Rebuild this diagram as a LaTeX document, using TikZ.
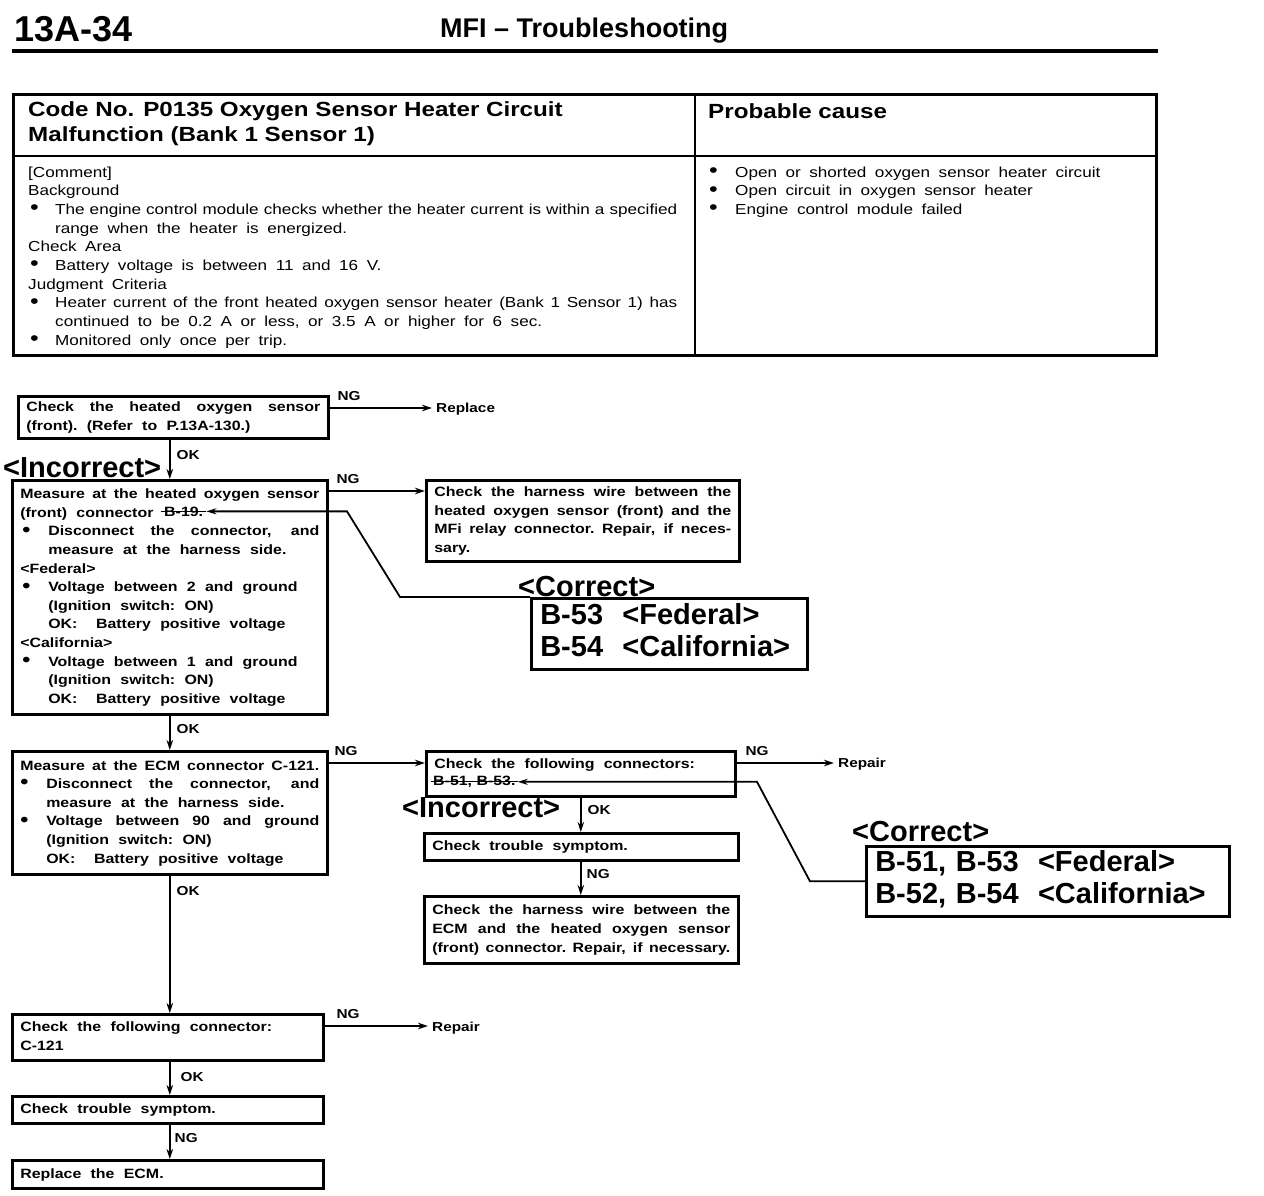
\documentclass[tikz,border=0pt]{standalone}
\usepackage{fontspec}
\setmainfont{Liberation Sans}
\newfontfamily\wide{Liberation Sans}[FakeStretch=1.18]
\usepackage{graphicx}
\usetikzlibrary{arrows.meta,calc}
\setlength\parindent{0pt}
\newlength\bind \newlength\boff
\newsavebox\jbox
\newcommand\widesp[1]{\spaceskip=#1\fontdimen2\font plus \fontdimen3\font minus \fontdimen4\font\relax\xspaceskip=\spaceskip}
\newcommand\fitto[2]{\leavevmode\sbox\jbox{\spaceskip=0pt\xspaceskip=0pt #2}\ifdim\wd\jbox>#1\relax\resizebox{#1}{\ht\jbox}{\usebox\jbox}\else\hbox to #1{\spaceskip=\fontdimen2\font plus 1fil\relax\xspaceskip=\spaceskip #2}\fi}
\newcommand\J[1]{\fitto{\hsize}{#1}}
\newcommand\Bu{\makebox[\bind][l]{\hspace*{\boff}\raisebox{-0.3pt}{\scalebox{1.45}{\textbullet}}}}
\newcommand\BJ[1]{\Bu\fitto{\dimexpr\hsize-\bind\relax}{#1}}
\newcommand\BL[1]{\Bu#1}
\newcommand\IL[1]{\hspace*{\bind}#1}
\newcommand\ftx{\wide\bfseries\fontsize{13.5}{18.6}\selectfont}
\newcommand\flab{\wide\bfseries\fontsize{13}{15}\selectfont}
\newcommand\ftab{\wide\fontsize{14.5}{18.67}\selectfont}
\begin{document}
\begin{tikzpicture}[x=1pt,y=-1pt,
  fbox/.style={draw, line width=2.6pt, anchor=north west, inner xsep=8pt, inner ysep=0pt, align=left, font=\ftx, execute at begin node={\widesp{2.1}\strut}, execute at end node=\strut},
  tbody/.style={anchor=north west, inner sep=0pt, align=left, font=\ftab, execute at begin node={\widesp{1.8}\strut}},
  corr/.style={draw, line width=2.6pt, anchor=north west, inner xsep=9pt, inner ysep=0pt, align=left, font=\bfseries\fontsize{29}{32}\selectfont, execute at begin node=\strut, execute at end node=\strut},
  arr/.style={line width=1.8pt, -{Stealth[length=10pt,width=6.5pt]}},
  ann/.style={line width=1.8pt, -{Stealth[length=10pt,width=6pt]}},
  lab/.style={font=\flab, inner sep=1pt},
  tgt/.style={font=\flab, inner sep=4pt, anchor=west},
  big/.style={font=\bfseries\fontsize{29}{32}\selectfont, inner sep=0pt, anchor=base west},
  strike/.style={line width=1.3pt}]
\useasboundingbox (0,0) rectangle (1264,1196);
\fill[white] (0,0) rectangle (1264,1196);

% page header
\node[anchor=base west, inner sep=0pt, font=\bfseries\fontsize{36}{40}\selectfont] (pg) at (14,42) {13A-34};
\node[anchor=base west, inner sep=0pt, font=\bfseries\fontsize{27}{30}\selectfont] (ttl) at (440,38) {MFI – Troubleshooting};
\draw[line width=4.5pt] (12,51) -- (1158,51);

% table
\draw[line width=3pt] (13,95) rectangle (1156,355);
\draw[line width=2pt] (695,95) -- (695,355);
\draw[line width=2pt] (13,156) -- (1156,156);
\node[anchor=north west, inner sep=0pt, align=left, font=\wide\bfseries\fontsize{20.5}{25}\selectfont, execute at begin node=\strut] (code) at (28,101.5) {Code No. P0135 Oxygen Sensor Heater Circuit\\Malfunction (Bank 1 Sensor 1)};
\node[anchor=base west, inner sep=0pt, font=\wide\bfseries\fontsize{20.5}{25}\selectfont] (pc) at (708,119) {Probable cause};
\node[tbody, text width=649pt] (cmt) at (28,164) {\setlength\bind{27pt}\setlength\boff{2pt}%
[Comment]\\
Background\\
\BJ{The engine control module checks whether the heater current is within a specified}\\
\IL{range when the heater is energized.}\\
Check Area\\
\BL{Battery voltage is between 11 and 16 V.}\\
Judgment Criteria\\
\BJ{Heater current of the front heated oxygen sensor heater (Bank 1 Sensor 1) has}\\
\IL{continued to be 0.2 A or less, or 3.5 A or higher for 6 sec.}\\
\BL{Monitored only once per trip.}};
\node[tbody, text width=440pt] (cause) at (708,164) {\setlength\bind{27pt}\setlength\boff{1pt}%
\BL{Open or shorted oxygen sensor heater circuit}\\
\BL{Open circuit in oxygen sensor heater}\\
\BL{Engine control module failed}};

% flowchart boxes
\node[fbox, text width=294pt, minimum height=42pt] (b1) at (17,395) {\J{Check the heated oxygen sensor}\\(front). (Refer to P.13A-130.)};
\node[fbox, text width=299pt, minimum height=234pt] (b2) at (11,479) {\setlength\bind{28pt}\setlength\boff{2pt}%
\J{Measure at the heated oxygen sensor}\\
(front) connector\\
\BJ{Disconnect the connector, and}\\
\IL{measure at the harness side.}\\
<Federal>\\
\BL{Voltage between 2 and ground}\\
\IL{(Ignition switch: ON)}\\
\IL{OK:\ \ Battery positive voltage}\\
<California>\\
\BL{Voltage between 1 and ground}\\
\IL{(Ignition switch: ON)}\\
\IL{OK:\ \ Battery positive voltage}};
\node[fbox, text width=297pt, minimum height=81pt] (b3) at (425,479) {\J{Check the harness wire between the}\\\J{heated oxygen sensor (front) and the}\\\J{MFi relay connector. Repair, if neces-}\\sary.};
\node[fbox, text width=299pt, minimum height=123pt] (b4) at (11,750) {\setlength\bind{26pt}\setlength\boff{0pt}%
\J{Measure at the ECM connector C-121.}\\
\BJ{Disconnect the connector, and}\\
\IL{measure at the harness side.}\\
\BJ{Voltage between 90 and ground}\\
\IL{(Ignition switch: ON)}\\
\IL{OK:\ \ Battery positive voltage}};
\node[fbox, text width=293pt, minimum height=45pt] (b5) at (425,750) {Check the following connectors:\\\mbox{}};
\node[fbox, text width=298pt, minimum height=27pt] (b6) at (423,832) {Check trouble symptom.};
\node[fbox, text width=298pt, minimum height=67pt] (b7) at (423,895) {\J{Check the harness wire between the}\\\J{ECM and the heated oxygen sensor}\\\J{(front) connector. Repair, if necessary.}};
\node[fbox, text width=295pt, minimum height=46pt] (b8) at (11,1013) {Check the following connector:\\C-121};
\node[fbox, text width=295pt, minimum height=27pt] (b9) at (11,1095) {Check trouble symptom.};
\node[fbox, text width=295pt, minimum height=28pt] (b10) at (11,1159) {Replace the ECM.};

% end targets
\node[tgt] (rep1) at (432,409) {Replace};
\node[tgt] (rep2) at (834,764) {Repair};
\node[tgt] (rep3) at (428,1028) {Repair};

% NG connectors
\coordinate (s1) at ([yshift=-13pt]b1.north east);
\coordinate (s2) at ([yshift=-12pt]b2.north east);
\coordinate (s4) at ([yshift=-13pt]b4.north east);
\coordinate (s5) at ([yshift=-13pt]b5.north east);
\coordinate (s8) at ([yshift=-13pt]b8.north east);
\draw[arr] (s1) -- (s1 -| rep1.west) node[lab, pos=0, anchor=south west, xshift=6pt, yshift=5pt] {NG};
\draw[arr] (s2) -- (s2 -| b3.west) node[lab, pos=0, anchor=south west, xshift=6pt, yshift=5pt] {NG};
\draw[arr] (s4) -- (s4 -| b5.west) node[lab, pos=0, anchor=south west, xshift=4pt, yshift=5pt] {NG};
\draw[arr] (s5) -- (s5 -| rep2.west) node[lab, pos=0, anchor=south west, xshift=7pt, yshift=5pt] {NG};
\draw[arr] (s8) -- (s8 -| rep3.west) node[lab, pos=0, anchor=south west, xshift=10pt, yshift=5pt] {NG};

% vertical connectors
\draw[arr] (b2.north |- b1.south) -- (b2.north) node[lab, pos=0.4, anchor=west, xshift=5pt] {OK};
\draw[arr] (b2.south) -- (b4.north) node[lab, pos=0.38, anchor=west, xshift=5pt] {OK};
\draw[arr] (b4.south) -- (b4.south |- b8.north) node[lab, pos=0.11, anchor=west, xshift=5pt] {OK};
\draw[arr] (b8.south -| b4.south) -- (b9.north -| b4.south) node[lab, pos=0.47, anchor=west, xshift=9pt] {OK};
\draw[arr] (b9.south -| b4.south) -- (b10.north -| b4.south) node[lab, pos=0.38, anchor=west, xshift=3pt] {NG};
\draw[arr] (b5.south) -- (b5.south |- b6.north) node[lab, pos=0.35, anchor=west, xshift=5pt] {OK};
\draw[arr] (b6.south -| b5.south) -- (b7.north -| b5.south) node[lab, pos=0.36, anchor=west, xshift=4pt] {NG};

% corrections
\node[big] (inc1) at (3,477) {<Incorrect>};
\node[big] (inc2) at (402,817) {<Incorrect>};
\node[font=\ftx, anchor=base west, inner xsep=3pt, inner ysep=0pt] (b19) at (161,516) {B-19.};
\draw[strike] (b19.west) -- (b19.east);
\node[font=\ftx, anchor=base west, inner xsep=2pt, inner ysep=0pt] (b51) at (431,785.5) {B-51, B-53.};
\draw[strike] (b51.west) -- (b51.east);

\node[corr, text width=258pt, minimum height=71pt] (c1) at (530,597) {B-53~~<Federal>\\B-54~~<California>};
\node[corr, text width=345pt, minimum height=70pt] (c2) at (865,845) {B-51,~B-53~~<Federal>\\B-52,~B-54~~<California>};
\node[big] (cor1) at (518,596) {<Correct>};
\node[big] (cor2) at (852,841) {<Correct>};

\coordinate (k1) at (400,0);
\coordinate (k2) at (347,0);
\coordinate (k3) at (810,0);
\coordinate (k4) at (757,0);
\draw[ann] (c1.north west) -- (k1 |- c1.north west) -- (k2 |- b19.east) -- (b19.east);
\draw[ann] (c2.west) -- (k3 |- c2.west) -- (k4 |- b51.east) -- (b51.east);
\end{tikzpicture}
\end{document}
